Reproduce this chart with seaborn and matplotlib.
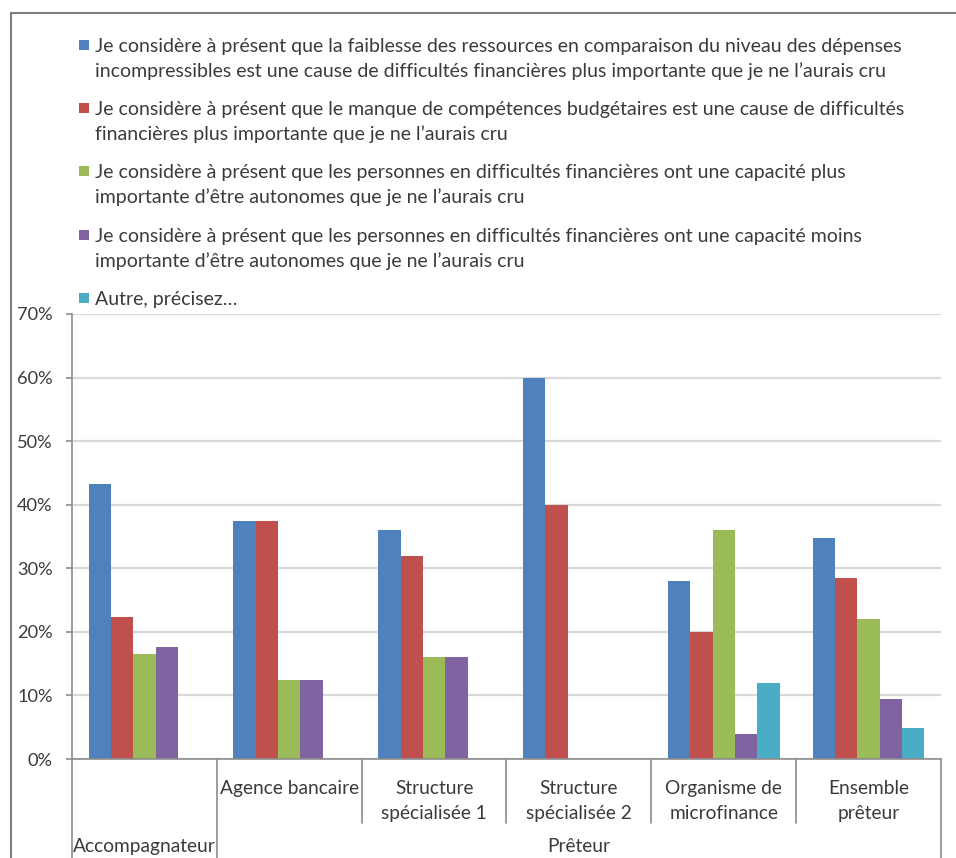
import numpy as np
import pandas as pd
import matplotlib
matplotlib.use("Agg")
import matplotlib.pyplot as plt
import matplotlib.transforms as mtransforms
from matplotlib.lines import Line2D
from matplotlib.patches import Rectangle
from matplotlib.ticker import FuncFormatter
import seaborn as sns

# ---------------- data ----------------
groups = ["Accompagnateur", "Agence bancaire", "Structure spécialisée 1",
          "Structure spécialisée 2", "Organisme de microfinance", "Ensemble prêteur"]
inner_labels = ["", "Agence bancaire", "Structure\nspécialisée 1", "Structure\nspécialisée 2",
                "Organisme de\nmicrofinance", "Ensemble\nprêteur"]
outer_labels = ["Accompagnateur", "Prêteur"]
outer_first = [0, 1]
outer_last = [0, 5]

series_labels = [
    "Je considère à présent que la faiblesse des ressources en comparaison du niveau des dépenses\n"
    "incompressibles est une cause de difficultés financières plus importante que je ne l’aurais cru",
    "Je considère à présent que le manque de compétences budgétaires est une cause de difficultés\n"
    "financières plus importante que je ne l’aurais cru",
    "Je considère à présent que les personnes en difficultés financières ont une capacité plus\n"
    "importante d’être autonomes que je ne l’aurais cru",
    "Je considère à présent que les personnes en difficultés financières ont une capacité moins\n"
    "importante d’être autonomes que je ne l’aurais cru",
    "Autre, précisez…",
]
nan = np.nan
ressources = [0.433, 0.375, 0.360, 0.600, 0.280, 0.348]
competences = [0.223, 0.375, 0.320, 0.400, 0.200, 0.285]
plus_autonomes = [0.165, 0.125, 0.160, nan, 0.360, 0.221]
moins_autonomes = [0.176, 0.125, 0.160, nan, 0.040, 0.095]
autre = [nan, nan, nan, nan, 0.120, 0.048]
values = [ressources, competences, plus_autonomes, moins_autonomes, autre]
y_ticks = [0, 0.1, 0.2, 0.3, 0.4, 0.5, 0.6, 0.7]

colors = ["#4F81BD", "#C0504D", "#9BBB59", "#8064A2", "#4BACC6"]

rows = []
for lab, vals in zip(series_labels, values):
    for g, v in zip(groups, vals):
        if not np.isnan(v):
            rows.append({"groupe": g, "serie": lab, "valeur": v})
df = pd.DataFrame(rows)

# ---------------- figure ----------------
W, H = 956, 858
DPI = 100
sns.set_style("white")
FONT = ["Lato", "DejaVu Sans"]
plt.rcParams["font.family"] = FONT
TXT = "#3b3b3b"
GRID = "#d9d9d9"
AXC = "#8c8c8c"

fig = plt.figure(figsize=(W / DPI, H / DPI), dpi=DPI)
renderer = fig.canvas.get_renderer()


def fit_size(text, target_px, base=14.0):
    t = fig.text(0, 0, text, fontsize=base)
    w = t.get_window_extent(renderer).width
    t.remove()
    return base * target_px / w


fs_leg = fit_size("Je considère à présent que la faiblesse des ressources en comparaison du niveau des dépenses", 812)
fs_tick = fit_size("70%", 36)
fs_cat = fit_size("Agence bancaire", 140)


def fx(px):
    return px / W


def fy(py):
    return 1 - py / H


ax_left, ax_right, ax_top, ax_bottom = 72, 941, 314, 759
ax = fig.add_axes([fx(ax_left), fy(ax_bottom), fx(ax_right - ax_left), (ax_bottom - ax_top) / H])

sns.barplot(data=df, x="groupe", y="valeur", hue="serie", order=groups,
            hue_order=series_labels, palette=colors, saturation=1, width=0.77,
            errorbar=None, linewidth=0, legend=False, ax=ax)

ax.set_xlim(-0.5, len(groups) - 0.5)
ax.set_ylim(0, 0.7)
ax.set_yticks(y_ticks)
ax.yaxis.set_major_formatter(FuncFormatter(lambda v, p: f"{v * 100:.0f}%"))
ax.tick_params(axis="y", length=4, width=1.2, color=AXC, pad=10, labelsize=fs_tick, labelcolor=TXT, left=True)
ax.set_xticks([])
ax.set_xlabel("")
ax.set_ylabel("")
ax.grid(axis="y", color=GRID, linewidth=1.6)
ax.set_axisbelow(True)
for s in ["top", "right"]:
    ax.spines[s].set_visible(False)
ax.spines["left"].set_color(AXC)
ax.spines["left"].set_linewidth(1.2)
ax.spines["bottom"].set_color(AXC)
ax.spines["bottom"].set_linewidth(1.2)

# category separators below the axis
trans = mtransforms.blended_transform_factory(ax.transData, ax.transAxes)
ax_h = ax_bottom - ax_top
inner_end = -(823 - ax_bottom) / ax_h
outer_end = -(H + 5 - ax_bottom) / ax_h
outer_bounds = set([outer_first[0] - 0.5] + [l + 0.5 for l in outer_last])
for b in np.arange(-0.5, len(groups), 1.0):
    end = outer_end if b in outer_bounds else inner_end
    ax.add_line(Line2D([b, b], [0, end], transform=trans, color=AXC, linewidth=1.2, clip_on=False))

# inner category labels
bl1 = 794
for i, lab in enumerate(inner_labels):
    for k, line in enumerate(lab.split("\n")):
        if line:
            ax.text(i, -(bl1 + 25 * k - ax_bottom) / ax_h, line, transform=trans, ha="center",
                    va="baseline", fontsize=fs_cat, color=TXT)
# outer category labels
for lab, a, b in zip(outer_labels, outer_first, outer_last):
    ax.text((a + b) / 2, -(852 - ax_bottom) / ax_h, lab, transform=trans, ha="center",
            va="baseline", fontsize=fs_cat, color=TXT)

# legend (marker beside first line of each entry)
for i, (lab, c) in enumerate(zip(series_labels, colors)):
    base = 52 + 63.2 * i
    fig.add_artist(Rectangle((fx(79), fy(base - 2)), fx(10), 10 / H, facecolor=c, edgecolor="none",
                             transform=fig.transFigure))
    for k, line in enumerate(lab.split("\n")):
        fig.text(fx(95), fy(base + 25 * k), line, ha="left", va="baseline", fontsize=fs_leg, color=TXT)

# outer chart frame
fig.add_artist(Line2D([fx(11), 1.0], [fy(13), fy(13)], transform=fig.transFigure, color="#808080", linewidth=1.5))
fig.add_artist(Line2D([fx(11), fx(11)], [fy(13), 0], transform=fig.transFigure, color="#808080", linewidth=1.5))

fig.savefig("out.png", dpi=DPI)
